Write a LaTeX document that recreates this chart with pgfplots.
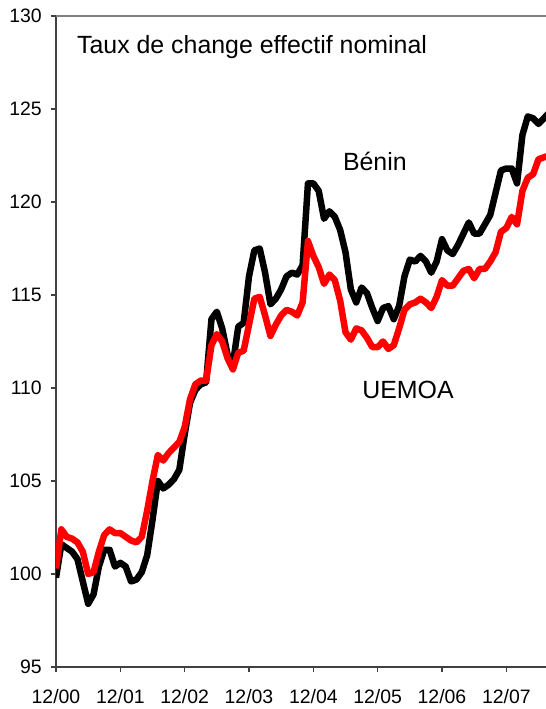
\documentclass[border=0pt]{standalone}
\usepackage{fontspec}
\setmainfont{Liberation Sans}
\usepackage{pgfplots}
\usepackage{pgfplotstable}
\pgfplotsset{compat=1.18}

% monthly index: 0 = 12/00
\pgfplotstableread{
m  benin  uemoa
0  99.8   100.3
1  101.6  102.4
2  101.4  102.0
3  101.2  101.9
4  100.8  101.7
5  99.6   101.2
6  98.4   100.0
7  98.9   100.1
8  100.4  101.2
9  101.3  102.1
10 101.3  102.4
11 100.4  102.2
12 100.6  102.2
13 100.4  102.0
14 99.6   101.8
15 99.7   101.7
16 100.1  102.0
17 101.0  103.4
18 102.9  105.0
19 105.0  106.4
20 104.6  106.1
21 104.8  106.5
22 105.1  106.8
23 105.6  107.1
24 107.5  107.9
25 109.2  109.4
26 109.9  110.2
27 110.2  110.4
28 110.3  110.4
29 113.7  112.3
30 114.1  112.9
31 113.2  112.5
32 111.8  111.6
33 111.3  111.0
34 113.3  111.9
35 113.5  112.0
36 116.0  113.4
37 117.4  114.8
38 117.5  114.9
39 116.2  113.9
40 114.5  112.8
41 114.8  113.4
42 115.3  113.9
43 116.0  114.2
44 116.2  114.1
45 116.1  113.9
46 116.6  114.6
47 121.0  117.9
48 121.0  117.1
49 120.6  116.5
50 119.1  115.6
51 119.5  116.1
52 119.2  115.8
53 118.5  114.7
54 117.3  113.0
55 115.3  112.6
56 114.6  113.2
57 115.4  113.1
58 115.1  112.7
59 114.3  112.2
60 113.6  112.2
61 114.3  112.5
62 114.4  112.1
63 113.7  112.3
64 114.4  113.2
65 116.0  114.2
66 116.9  114.5
67 116.8  114.6
68 117.1  114.8
69 116.8  114.6
70 116.2  114.3
71 116.8  114.9
72 118.0  115.8
73 117.4  115.5
74 117.2  115.5
75 117.7  115.9
76 118.3  116.3
77 118.9  116.4
78 118.3  115.9
79 118.3  116.4
80 118.8  116.4
81 119.3  116.8
82 120.5  117.3
83 121.7  118.4
84 121.8  118.6
85 121.8  119.2
86 121.0  118.8
87 123.6  120.6
88 124.6  121.3
89 124.5  121.5
90 124.2  122.3
91 124.5  122.4
92 124.8  122.5
}\tcen

\begin{document}
\begin{tikzpicture}
\begin{axis}[
    at={(0,0)}, anchor=south west,
    width=490bp, height=651bp, scale only axis,
    xmin=0, xmax=91.4, ymin=95, ymax=130,
    axis x line*=bottom, axis y line*=left,
    axis line style={-, line width=1.6bp, black!75},
    xtick={0,12,...,84},
    xticklabels={12/00,12/01,12/02,12/03,12/04,12/05,12/06,12/07},
    ytick={95,100,...,130},
    tick align=outside,
    major tick length=5bp,
    tick style={line width=1.3bp, black!75},
    ticklabel style={font=\fontsize{19.5}{20}\selectfont},
    /pgf/number format/assume math mode=true,
    yticklabel style={inner sep=0pt, xshift=-9bp},
    xticklabel style={inner sep=0pt, yshift=-17bp},
]
    % Benin
    \addplot[black, line width=6.5bp, line join=round] table[x=m, y=benin] {\tcen};
    % UEMOA
    \addplot[red, line width=6.5bp, line join=round] table[x=m, y=uemoa] {\tcen};

    \draw[gray, line width=1.2bp] (rel axis cs:0,1) -- (rel axis cs:1,1);
    \node[anchor=base west, inner sep=0pt, font=\fontsize{25}{30}\selectfont]
        at (axis cs:3.9,127.96) {Taux de change effectif nominal};
    \node[anchor=base west, inner sep=0pt, font=\fontsize{25}{30}\selectfont]
        at (axis cs:53.5,121.72) {Bénin};
    \node[anchor=base west, inner sep=0pt, font=\fontsize{25}{30}\selectfont]
        at (axis cs:57.1,109.46) {UEMOA};
\end{axis}
\pgfresetboundingbox
\path[use as bounding box] (-56bp,-42bp) rectangle (490bp,667bp);
\end{tikzpicture}
\end{document}
